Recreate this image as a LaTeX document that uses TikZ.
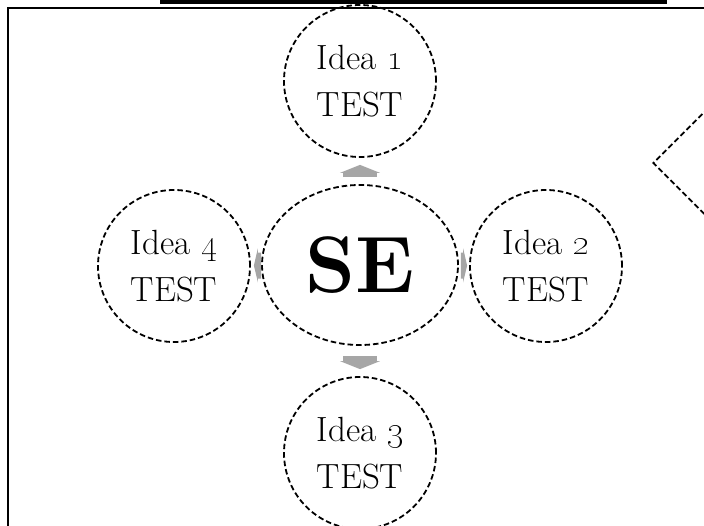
\documentclass[tikz,border=0pt]{standalone}
\usetikzlibrary{shapes.geometric,arrows.meta}
\definecolor{arrowgray}{HTML}{A6A6A6}

\begin{document}
\begin{tikzpicture}[x=1pt,y=-1pt,
    dashline/.style={draw,line width=1.8pt,dash pattern=on 5.5pt off 3pt},
    idea/.style={dashline,circle,minimum size=152pt,inner sep=0pt,align=center,
      font=\fontsize{35}{47}\selectfont},
    hub/.style={dashline,ellipse,minimum width=196pt,minimum height=160pt,inner sep=0pt,
      font=\fontsize{80}{90}\selectfont\bfseries},
    blockup/.style={arrowgray,line width=34pt,-{Triangle[width=40pt,length=8pt]}},
    blockside/.style={arrowgray,line width=26pt,-{Triangle[width=34pt,length=4pt]}}]
    \useasboundingbox (0,0) rectangle (704,526);
    \clip (0,0) rectangle (704,526);
    \fill (160,0) rectangle (667,4);
    \draw[line width=2.4pt] (8,560) -- (8,8) -- (740,8);
    \node (next) [dashline,diamond,minimum width=200pt,minimum height=200pt,inner sep=0pt] at (753,163) {};
    \node (se) [hub] at (360,265) {SE};
    \node (i1) [idea] at (360,81) {Idea \oldstylenums{1}\\TEST};
    \node (i2) [idea] at (546,266) {Idea \oldstylenums{2}\\TEST};
    \node (i3) [idea] at (360,453) {Idea \oldstylenums{3}\\TEST};
    \node (i4) [idea] at (174,266) {Idea \oldstylenums{4}\\TEST};
    \draw[blockup,shorten <=7pt,shorten >=7pt] (se) -- (i1);
    \draw[blockup,shorten <=10pt,shorten >=7pt] (se) -- (i3);
    \draw[blockside,shorten <=2pt,shorten >=2pt] (se) -- (i2);
    \draw[blockside,shorten <=0pt,shorten >=3pt] (se) -- (i4);
\end{tikzpicture}
\end{document}
